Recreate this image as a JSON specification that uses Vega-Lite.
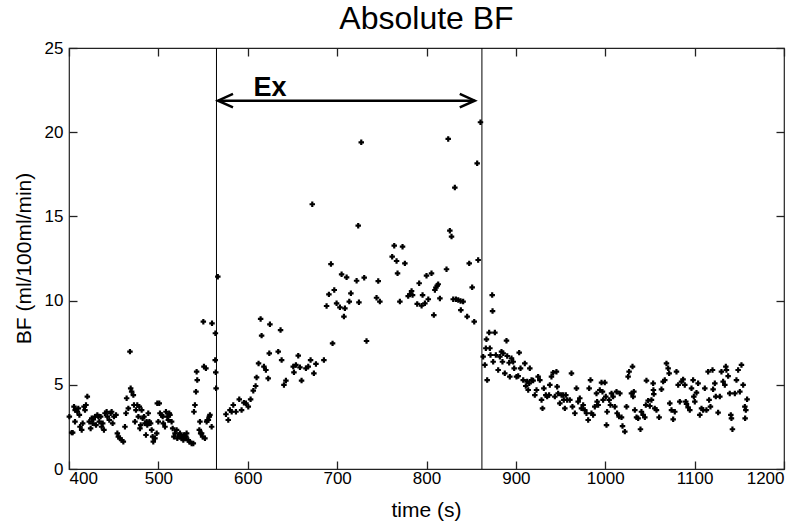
{
  "$schema": "https://vega.github.io/schema/vega-lite/v6.json",
  "width": 715,
  "height": 421,
  "autosize": "none",
  "padding": {"left": 69, "top": 48, "right": 23, "bottom": 54},
  "background": "white",
  "title": {"text": "Absolute BF", "font": "Liberation Sans", "fontSize": 32, "fontWeight": "normal", "color": "black", "offset": 3, "anchor": "middle", "frame": "group"},
  "config": {
    "view": {"stroke": "#222", "strokeWidth": 1.2},
    "axis": {"zindex": 2, "domain": false, "ticks": true, "tickSize": -8, "tickWidth": 1.3, "tickColor": "#222", "tickOpacity": 1, "labelFont": "Liberation Sans", "labelFontSize": 17, "labelColor": "black", "grid": false, "titleFont": "Liberation Sans", "titleFontSize": 21, "titleFontWeight": "normal", "titleColor": "black", "format": "d"}
  },
  "resolve": {"axis": {"x": "independent", "y": "independent"}},
  "datasets": {
    "pts": [
      {"t":400.4,"bf":3.11},{"t":403,"bf":2.16},{"t":404.1,"bf":2.16},{"t":405.6,"bf":3.70},{"t":406.7,"bf":2.81},{"t":406.9,"bf":3.50},{"t":409.3,"bf":3.40},{"t":410.4,"bf":3.60},{"t":411.6,"bf":3.21},{"t":412.3,"bf":2.51},{"t":414.2,"bf":2.32},{"t":415.3,"bf":2.71},{"t":416.8,"bf":3.70},{"t":417.9,"bf":3.50},{"t":419,"bf":3.80},{"t":420.5,"bf":4.30},{"t":422.7,"bf":2.81},{"t":424.2,"bf":2.41},{"t":425.4,"bf":3.01},{"t":426.5,"bf":2.71},{"t":427.2,"bf":2.95},{"t":429.1,"bf":3.11},{"t":430.2,"bf":2.61},{"t":431.7,"bf":3.21},{"t":432.8,"bf":3.11},{"t":433.9,"bf":2.81},{"t":435.4,"bf":3.11},{"t":436.5,"bf":2.51},{"t":437.7,"bf":2.71},{"t":439.1,"bf":2.32},{"t":440.3,"bf":3.31},{"t":442.1,"bf":3.40},{"t":442.9,"bf":3.11},{"t":445.1,"bf":2.91},{"t":446.6,"bf":3.31},{"t":447.7,"bf":3.40},{"t":448.8,"bf":2.71},{"t":450.3,"bf":3.11},{"t":452.6,"bf":3.21},{"t":454.1,"bf":2.12},{"t":455.2,"bf":1.92},{"t":457,"bf":1.82},{"t":458.9,"bf":1.72},{"t":460.8,"bf":1.62},{"t":462.6,"bf":2.51},{"t":463.8,"bf":3.31},{"t":464.5,"bf":4.20},{"t":466.4,"bf":3.60},{"t":468.2,"bf":6.97},{"t":469,"bf":4.79},{"t":470.1,"bf":4.59},{"t":472,"bf":4.39},{"t":472.7,"bf":3.80},{"t":473.8,"bf":2.81},{"t":474.9,"bf":3.50},{"t":476.4,"bf":3.80},{"t":477.6,"bf":3.11},{"t":478.7,"bf":3.70},{"t":479.4,"bf":2.41},{"t":480.2,"bf":2.61},{"t":481.3,"bf":3.50},{"t":482.4,"bf":3.01},{"t":483.9,"bf":3.11},{"t":485,"bf":2.71},{"t":486.1,"bf":2.02},{"t":486.9,"bf":2.81},{"t":487.6,"bf":2.61},{"t":488.7,"bf":3.31},{"t":489.9,"bf":2.81},{"t":491.3,"bf":2.71},{"t":492.5,"bf":2.32},{"t":493.6,"bf":1.92},{"t":494.3,"bf":1.62},{"t":496.2,"bf":1.82},{"t":498.1,"bf":2.12},{"t":498.8,"bf":3.90},{"t":499.9,"bf":2.81},{"t":501,"bf":3.90},{"t":501.8,"bf":3.31},{"t":503.7,"bf":3.21},{"t":504.8,"bf":3.11},{"t":505.5,"bf":2.71},{"t":507.4,"bf":2.51},{"t":508.5,"bf":3.40},{"t":510,"bf":3.11},{"t":511.1,"bf":2.91},{"t":512.2,"bf":3.31},{"t":513,"bf":3.21},{"t":514.8,"bf":2.81},{"t":516,"bf":2.41},{"t":517.4,"bf":1.92},{"t":518.6,"bf":2.12},{"t":520.4,"bf":2.32},{"t":521.2,"bf":1.82},{"t":523.4,"bf":2.02},{"t":524.2,"bf":2.12},{"t":524.9,"bf":1.92},{"t":526,"bf":1.82},{"t":527.1,"bf":1.92},{"t":527.9,"bf":1.72},{"t":528.6,"bf":2.02},{"t":529.8,"bf":1.82},{"t":530.9,"bf":1.92},{"t":531.6,"bf":2.12},{"t":533.5,"bf":1.72},{"t":534.6,"bf":1.62},{"t":537.2,"bf":1.52},{"t":539.1,"bf":1.52},{"t":539.8,"bf":3.40},{"t":540.9,"bf":3.80},{"t":542.1,"bf":4.59},{"t":542.8,"bf":5.78},{"t":543.5,"bf":5.28},{"t":545.8,"bf":2.32},{"t":546.5,"bf":2.81},{"t":547.3,"bf":2.12},{"t":548.4,"bf":2.12},{"t":549.5,"bf":1.92},{"t":550.3,"bf":8.75},{"t":551,"bf":6.08},{"t":552.1,"bf":1.82},{"t":553.2,"bf":5.98},{"t":554,"bf":2.81},{"t":554.7,"bf":2.91},{"t":555.9,"bf":2.91},{"t":557,"bf":3.11},{"t":557.7,"bf":3.21},{"t":559.6,"bf":2.51},{"t":560,"bf":8.65},{"t":563.8,"bf":8.06},{"t":563.6,"bf":6.47},{"t":564.2,"bf":5.74},{"t":564.6,"bf":4.79},
      {"t":566.5,"bf":11.42},{"t":575.6,"bf":3.25},{"t":578.2,"bf":2.91},{"t":580.1,"bf":3.50},{"t":582,"bf":3.40},{"t":583.8,"bf":3.80},{"t":586.8,"bf":3.40},{"t":590.5,"bf":4.14},{"t":593.1,"bf":3.50},{"t":595.7,"bf":3.94},{"t":598,"bf":3.90},{"t":600.6,"bf":3.70},{"t":603.2,"bf":4.14},{"t":606.2,"bf":4.65},{"t":608.8,"bf":4.93},{"t":609.9,"bf":5.44},{"t":612.1,"bf":6.27},{"t":614.4,"bf":8.91},{"t":615.5,"bf":7.92},{"t":618.1,"bf":6.08},{"t":620.3,"bf":5.88},{"t":622.9,"bf":5.38},{"t":624.1,"bf":6.87},{"t":624.8,"bf":8.59},{"t":634.1,"bf":6.97},{"t":636.7,"bf":8.25},{"t":637.9,"bf":6.47},{"t":640.5,"bf":4.99},{"t":642.7,"bf":5.25},{"t":650.9,"bf":6.08},{"t":651.7,"bf":5.74},{"t":653.9,"bf":6.18},{"t":656.5,"bf":6.73},{"t":658.4,"bf":6.04},{"t":660.2,"bf":5.25},{"t":665.1,"bf":5.98},{"t":667.7,"bf":6.08},{"t":670.3,"bf":6.47},{"t":672.2,"bf":15.72},{"t":674,"bf":5.68},{"t":676.3,"bf":6.24},{"t":685.2,"bf":6.47},{"t":688.2,"bf":9.68},{"t":690.8,"bf":10.37},{"t":693.1,"bf":12.17},{"t":694.9,"bf":7.46},{"t":696.8,"bf":10.63},{"t":699.4,"bf":9.84},{"t":703.1,"bf":9.60},{"t":705,"bf":11.56},{"t":707.6,"bf":9.05},{"t":708.7,"bf":9.54},{"t":710.6,"bf":11.38},{"t":713.6,"bf":9.94},{"t":715.4,"bf":10.43},{"t":721.8,"bf":11.18},{"t":723.6,"bf":14.45},{"t":724.4,"bf":9.90},{"t":727,"bf":19.40},{"t":730.3,"bf":11.36},{"t":732.9,"bf":7.60},{"t":744.1,"bf":10.17},{"t":746,"bf":11.16},{"t":747.8,"bf":9.94},{"t":761.6,"bf":12.61},{"t":763.9,"bf":13.26},{"t":766.5,"bf":12.35},{"t":767.6,"bf":11.62},{"t":770.2,"bf":9.94},{"t":773.2,"bf":13.20},{"t":775.8,"bf":12.21},{"t":779.5,"bf":10.27},{"t":781.4,"bf":10.37},{"t":783.3,"bf":10.57},{"t":784.4,"bf":10.33},{"t":789.6,"bf":9.80},{"t":791.8,"bf":11.03},{"t":794.5,"bf":9.70},{"t":795.6,"bf":10.33},{"t":798.2,"bf":9.84},{"t":800,"bf":11.48},{"t":802,"bf":10.08},{"t":805.6,"bf":11.62},{"t":808.2,"bf":9.14},{"t":809.4,"bf":10.63},{"t":810.5,"bf":10.77},{"t":812,"bf":10.89},{"t":813.1,"bf":10.97},{"t":815,"bf":10.13},{"t":822.4,"bf":11.86},{"t":824.3,"bf":19.60},{"t":826.1,"bf":14.15},{"t":828,"bf":13.80},{"t":829.9,"bf":10.08},{"t":831.7,"bf":16.71},{"t":832.9,"bf":10.08},{"t":835.5,"bf":10.04},{"t":838.1,"bf":9.98},{"t":838.4,"bf":9.44},{"t":841,"bf":9.94},{"t":845.5,"bf":9.05},{"t":847.8,"bf":12.21},{"t":851.1,"bf":10.79},{"t":853.4,"bf":8.75},{"t":856.7,"bf":18.15},{"t":857.8,"bf":12.41},{"t":860.4,"bf":20.59},
      {"t":863.4,"bf":6.67},{"t":865.3,"bf":6.18},{"t":866.4,"bf":7.17},{"t":867.1,"bf":7.70},{"t":867.9,"bf":5.28},{"t":870.1,"bf":8.10},{"t":870.9,"bf":7.17},{"t":871.6,"bf":6.77},{"t":873.5,"bf":10.33},{"t":873.9,"bf":9.38},{"t":874.6,"bf":6.37},{"t":876.5,"bf":8.10},{"t":877.6,"bf":6.77},{"t":880.2,"bf":5.88},{"t":882.1,"bf":6.67},{"t":883.9,"bf":6.97},{"t":885,"bf":6.37},{"t":885.8,"bf":6.87},{"t":887.6,"bf":5.68},{"t":889.5,"bf":7.62},{"t":890.3,"bf":6.71},{"t":892.5,"bf":6.31},{"t":893.2,"bf":5.48},{"t":895.1,"bf":6.57},{"t":897,"bf":6.37},{"t":898.1,"bf":5.98},{"t":900.7,"bf":5.48},{"t":902.6,"bf":5.52},{"t":903.7,"bf":6.91},{"t":905.2,"bf":5.98},{"t":908.2,"bf":5.28},{"t":910,"bf":6.27},{"t":911.1,"bf":4.93},{"t":912.6,"bf":5.19},{"t":913.8,"bf":4.69},{"t":914.9,"bf":5.09},{"t":915.6,"bf":5.98},{"t":917.5,"bf":5.28},{"t":919.3,"bf":5.25},{"t":921.2,"bf":4.39},{"t":923.1,"bf":4.69},{"t":924.9,"bf":5.48},{"t":926.8,"bf":5.28},{"t":928.7,"bf":4.10},{"t":929.8,"bf":3.60},{"t":931.3,"bf":4.79},{"t":933.5,"bf":4.39},{"t":935,"bf":4.30},{"t":937.2,"bf":4.39},{"t":938,"bf":4.99},{"t":939.8,"bf":5.48},{"t":941.7,"bf":5.72},{"t":943.6,"bf":4.30},{"t":945.4,"bf":5.78},{"t":946.2,"bf":4.89},{"t":947.3,"bf":4.49},{"t":949.2,"bf":3.90},{"t":951.1,"bf":4.39},{"t":953,"bf":4.39},{"t":953.6,"bf":4.10},{"t":954.8,"bf":3.60},{"t":955.9,"bf":4.39},{"t":957.4,"bf":4.10},{"t":960.4,"bf":4.10},{"t":962.2,"bf":5.68},{"t":963.3,"bf":3.70},{"t":966,"bf":3.31},{"t":967.8,"bf":4.79},{"t":969.7,"bf":4.00},{"t":971.5,"bf":4.20},{"t":973.4,"bf":3.60},{"t":975.3,"bf":3.80},{"t":977.1,"bf":3.50},{"t":979,"bf":3.31},{"t":980.9,"bf":2.91},{"t":982,"bf":4.79},{"t":983.5,"bf":5.28},{"t":984.6,"bf":3.31},{"t":986.4,"bf":3.21},{"t":988.3,"bf":3.70},{"t":990.2,"bf":4.49},{"t":990.9,"bf":4.00},{"t":992.1,"bf":3.80},{"t":993.9,"bf":4.69},{"t":995.8,"bf":5.13},{"t":996.9,"bf":4.59},{"t":997.6,"bf":4.10},{"t":999.5,"bf":5.13},{"t":1000.6,"bf":4.30},{"t":1001.4,"bf":2.61},{"t":1002.1,"bf":3.40},{"t":1004.4,"bf":4.10},{"t":1005.8,"bf":3.80},{"t":1007,"bf":4.49},{"t":1008.8,"bf":4.30},{"t":1010.7,"bf":3.70},{"t":1012.6,"bf":4.59},{"t":1013.3,"bf":3.31},{"t":1015.5,"bf":3.11},
      {"t":1016.3,"bf":4.49},{"t":1018.2,"bf":3.07},{"t":1019.3,"bf":2.55},{"t":1021.9,"bf":2.22},{"t":1023.8,"bf":3.70},{"t":1025.6,"bf":5.48},{"t":1026.7,"bf":5.78},{"t":1029.3,"bf":4.49},{"t":1030.5,"bf":6.08},{"t":1031.2,"bf":4.30},{"t":1032,"bf":4.59},{"t":1033.1,"bf":3.50},{"t":1035,"bf":3.07},{"t":1036.8,"bf":3.01},{"t":1039.4,"bf":2.36},{"t":1040.5,"bf":3.40},{"t":1042.4,"bf":3.21},{"t":1044.3,"bf":3.07},{"t":1045.4,"bf":3.80},{"t":1046.1,"bf":5.25},{"t":1048,"bf":4.06},{"t":1049.9,"bf":3.74},{"t":1051.7,"bf":4.10},{"t":1053.6,"bf":5.09},{"t":1053.9,"bf":4.69},{"t":1054.3,"bf":4.45},{"t":1055.4,"bf":3.60},{"t":1057.3,"bf":3.50},{"t":1060.3,"bf":3.07},{"t":1062.9,"bf":4.73},{"t":1064.8,"bf":5.19},{"t":1066.6,"bf":5.28},{"t":1068.5,"bf":6.27},{"t":1070.4,"bf":5.98},{"t":1071.5,"bf":5.68},{"t":1072.2,"bf":3.90},{"t":1074.1,"bf":3.50},{"t":1076,"bf":2.95},{"t":1077.8,"bf":3.40},{"t":1079.7,"bf":5.78},{"t":1081.6,"bf":4.99},{"t":1083.4,"bf":4.00},{"t":1085.3,"bf":5.19},{"t":1087.1,"bf":5.32},{"t":1089,"bf":4.99},{"t":1090.1,"bf":4.00},{"t":1090.9,"bf":3.86},{"t":1092.7,"bf":3.66},{"t":1094.6,"bf":3.50},{"t":1096.5,"bf":4.79},{"t":1098.3,"bf":5.28},{"t":1099.1,"bf":4.30},{"t":1100.2,"bf":4.00},{"t":1102.1,"bf":4.53},{"t":1103.9,"bf":5.09},{"t":1105.8,"bf":3.21},{"t":1107.7,"bf":3.60},{"t":1109.5,"bf":3.50},{"t":1111.4,"bf":4.79},{"t":1113.2,"bf":3.50},{"t":1115.1,"bf":5.78},{"t":1116.2,"bf":4.10},{"t":1117.7,"bf":3.70},{"t":1120,"bf":5.88},{"t":1120.7,"bf":4.73},{"t":1122.6,"bf":5.09},{"t":1123.7,"bf":4.30},{"t":1126.3,"bf":3.35},{"t":1128.2,"bf":4.30},{"t":1130,"bf":5.78},{"t":1131.9,"bf":5.19},{"t":1133.8,"bf":4.99},{"t":1134.9,"bf":6.08},{"t":1135.6,"bf":5.88},{"t":1137.5,"bf":5.52},{"t":1139.3,"bf":4.49},{"t":1140.5,"bf":3.21},{"t":1141.2,"bf":3.01},{"t":1142.3,"bf":2.36},{"t":1145,"bf":4.49},{"t":1146.8,"bf":5.28},{"t":1148.7,"bf":5.88},{"t":1150.6,"bf":4.59},{"t":1152.4,"bf":6.18},{"t":1154.3,"bf":4.99},{"t":1156.2,"bf":3.70},{"t":1156.5,"bf":3.01},{"t":1157.3,"bf":3.50},{"t":1158.7,"bf":4.14}
    ],
    "vlines": [{"t": 565}, {"t": 862}],
    "arrow": [{"t1": 566.7, "t2": 854, "y": 21.87}],
    "heads": [{"t": 566.7, "y": 21.87, "dir": "left"}, {"t": 854, "y": 21.87, "dir": "right"}],
    "lbl": [{"t": 624.8, "y": 22.15, "text": "Ex"}]
  },
  "layer": [
    {
      "data": {"name": "pts"},
      "mark": {"type": "point", "shape": "cross", "filled": true, "color": "black", "size": 30, "opacity": 1},
      "encoding": {
        "x": {"field": "t", "type": "quantitative", "scale": {"domain": [400, 1200], "nice": false, "zero": false},
              "axis": {"orient": "bottom", "values": [400, 500, 600, 700, 800, 900, 1000, 1100, 1200], "title": "time (s)", "labelPadding": 9, "titleX": 357, "titleY": 47, "titleBaseline": "alphabetic", "titleAnchor": "middle", "titleAlign": "center"}},
        "y": {"field": "bf", "type": "quantitative", "scale": {"domain": [0, 25], "nice": false, "zero": false},
              "axis": {"orient": "left", "values": [0, 5, 10, 15, 20, 25], "title": "BF (ml/100ml/min)", "labelPadding": 14, "titleX": -39, "titleY": 210, "titleAngle": -90, "titleBaseline": "alphabetic", "titleAlign": "center"}}
      }
    },
    {
      "data": {"name": "vlines"},
      "mark": {"type": "rule", "color": "black", "strokeWidth": 1},
      "encoding": {
        "x": {"field": "t", "type": "quantitative", "scale": {"domain": [400, 1200], "nice": false, "zero": false},
              "axis": {"orient": "top", "values": [400, 500, 600, 700, 800, 900, 1000, 1100, 1200], "labels": false, "title": null}}
      }
    },
    {
      "data": {"name": "arrow"},
      "mark": {"type": "rule", "color": "black", "strokeWidth": 2.5},
      "encoding": {
        "x": {"field": "t1", "type": "quantitative", "axis": null},
        "x2": {"field": "t2"},
        "y": {"field": "y", "type": "quantitative", "scale": {"domain": [0, 25], "nice": false, "zero": false},
              "axis": {"orient": "right", "values": [0, 5, 10, 15, 20, 25], "labels": false, "title": null}}
      }
    },
    {
      "data": {"name": "heads"},
      "transform": [{"filter": "datum.dir == 'right'"}],
      "mark": {"type": "point", "shape": "M-1,-0.45L0,0L-1,0.45", "filled": false, "color": "black", "strokeWidth": 2.5, "size": 900, "opacity": 1},
      "encoding": {
        "x": {"field": "t", "type": "quantitative", "axis": null},
        "y": {"field": "y", "type": "quantitative", "axis": null}
      }
    },
    {
      "data": {"name": "heads"},
      "transform": [{"filter": "datum.dir == 'left'"}],
      "mark": {"type": "point", "shape": "M1,-0.45L0,0L1,0.45", "filled": false, "color": "black", "strokeWidth": 2.5, "size": 900, "opacity": 1},
      "encoding": {
        "x": {"field": "t", "type": "quantitative", "axis": null},
        "y": {"field": "y", "type": "quantitative", "axis": null}
      }
    },
    {
      "data": {"name": "lbl"},
      "mark": {"type": "text", "font": "Liberation Sans", "fontSize": 27, "fontWeight": "bold", "color": "black", "align": "center", "baseline": "alphabetic"},
      "encoding": {
        "x": {"field": "t", "type": "quantitative", "axis": null},
        "y": {"field": "y", "type": "quantitative", "axis": null},
        "text": {"field": "text"}
      }
    }
  ]
}
